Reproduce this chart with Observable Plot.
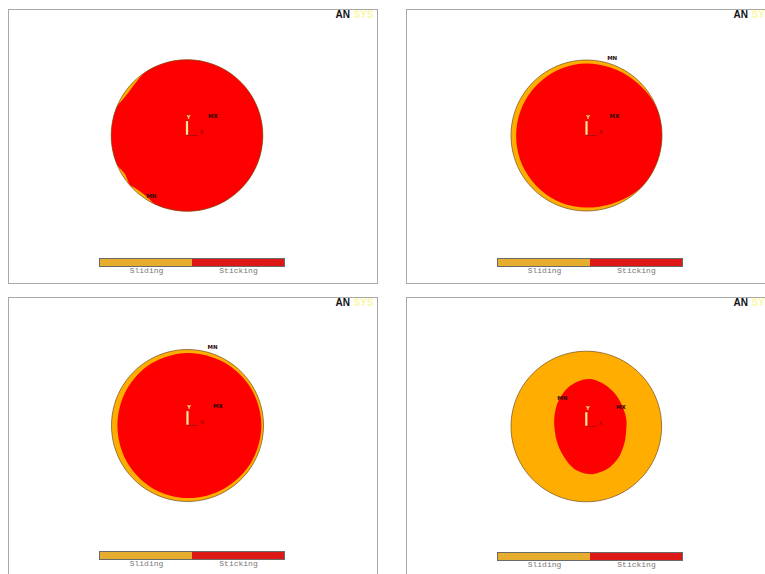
<!DOCTYPE html>
<html><head><meta charset="utf-8">
<script src="https://cdn.jsdelivr.net/npm/d3@7"></script>
<script src="https://cdn.jsdelivr.net/npm/@observablehq/plot@0.6"></script>
<style>
html,body{margin:0;padding:0;background:#fff;}
#root{position:relative;width:765px;height:574px;overflow:hidden;background:#fff;}
.panel{position:absolute;box-sizing:border-box;border:1px solid #a9a9a9;background:#fff;overflow:hidden;}
.panel svg{position:absolute;}
</style></head><body><div id="root"></div>
<script>
// ---- data (model units: disc radius = 1, angles in degrees, counter-clockwise from +X) ----
const statusCategories = ["Sliding", "Sticking"];
const legendColors = ["#E6AD2E", "#DE1717"];
const discColors = ["#FFAD00", "#FF0000"];

// boundary of the sticking zone: [angle, radius fraction]
const sticking1 = [[0,1],[10,1],[20,1],[30,1],[40,1],[50,1],[60,1],[70,1],[80,1],[90,1],[100,1],[110,1],[118,1],
  [124,1],[128,0.99],[133,0.972],[140,0.962],[147,0.962],[152,0.975],[156,0.995],[160,1],[168,1],[176,1],[184,1],
  [192,1],[200,1],[204,0.995],[208,0.975],[212,0.963],[217,0.98],[221,0.995],[226,0.972],[233,0.962],[239,0.975],
  [243,0.995],[247,1],[254,1],[262,1],[270,1],[280,1],[290,1],[300,1],[310,1],[320,1],[330,1],[340,1],[350,1]];
const sticking2 = [[0,1],[10,1],[20,1],[30,0.99],[40,0.975],[50,0.965],[60,0.958],[70,0.955],[80,0.953],[90,0.952],
  [100,0.95],[110,0.947],[120,0.944],[130,0.94],[140,0.937],[150,0.935],[160,0.933],[170,0.932],[180,0.932],
  [190,0.933],[200,0.935],[210,0.937],[220,0.94],[230,0.944],[240,0.947],[250,0.95],[260,0.953],[270,0.955],
  [280,0.958],[290,0.965],[300,0.975],[310,0.99],[320,1],[330,1],[340,1],[350,1]];
const sticking3 = [[0,0.972],[30,0.968],[60,0.96],[90,0.955],[120,0.945],[150,0.93],[180,0.922],[210,0.93],
  [240,0.945],[270,0.955],[300,0.96],[330,0.968]];
const sticking4 = [[10,0.54],[27,0.548],[40,0.565],[54,0.587],[70,0.615],[85,0.634],[98,0.615],[111,0.582],
  [126,0.535],[142,0.49],[165,0.44],[187,0.422],[208,0.44],[229,0.486],[245,0.545],[258,0.599],[270,0.628],
  [279,0.639],[296,0.629],[310,0.605],[321,0.583],[338,0.55],[354,0.532]];

// extreme-value labels: [text, x, y]
const extrema1 = [["MX", 0.34, 0.25], ["MN", -0.47, -0.8]];
const extrema2 = [["MN", 0.34, 1.02], ["MX", 0.37, 0.25]];
const extrema3 = [["MN", 0.33, 1.03], ["MX", 0.4, 0.25]];
const extrema4 = [["MN", -0.32, 0.37], ["MX", 0.46, 0.25]];

// coordinate triad: [axis, dx, dy]
const triad = [["Y", 0, 0.19], ["X", 0.14, 0]];

const logoParts = ["AN", "SYS"];

// ---- drawing ----
const rad = a => a * Math.PI / 180;
const px = d => d[1] * Math.cos(rad(d[0]));
const py = d => d[1] * Math.sin(rad(d[0]));
const discOutline = d3.range(0, 360, 4).map(a => [a, 1]);

const panels = [
  {left: 8,   top: 9,   w: 370, h: 275, cx: 177.5, cy: 125, r: 75.8, stick: sticking1, ext: extrema1, legTop: 248},
  {left: 406, top: 9,   w: 370, h: 275, cx: 179,   cy: 125, r: 75.5, stick: sticking2, ext: extrema2, legTop: 248},
  {left: 8,   top: 297, w: 370, h: 280, cx: 178,   cy: 127, r: 76,   stick: sticking3, ext: extrema3, legTop: 253},
  {left: 406, top: 297, w: 370, h: 280, cx: 178.8, cy: 128, r: 75.3, stick: sticking4, ext: extrema4, legTop: 254}
];

const root = document.getElementById("root");
for (const p of panels) {
  const div = document.createElement("div");
  div.className = "panel";
  Object.assign(div.style, {left: p.left + "px", top: p.top + "px", width: p.w + "px", height: p.h + "px"});
  root.appendChild(div);

  const W = p.w - 2, H = p.h - 2;
  const chart = Plot.plot({
    width: W, height: H, margin: 0,
    style: {background: "transparent", overflow: "visible"},
    x: {domain: [-1, 1], range: [p.cx - p.r, p.cx + p.r], axis: null},
    y: {domain: [-1, 1], range: [p.cy + p.r, p.cy - p.r], axis: null},
    marks: [
      Plot.line(discOutline, {x: px, y: py, fill: discColors[0], stroke: "none", curve: "linear-closed"}),
      Plot.line(p.stick, {x: px, y: py, fill: discColors[1], stroke: "none", curve: "catmull-rom-closed"}),
      Plot.line(discOutline, {x: px, y: py, fill: "none", stroke: "#6e4a1c", strokeWidth: 0.8, strokeOpacity: 0.85, curve: "linear-closed"}),
      // triad
      Plot.link([triad[0]], {x1: 0, y1: 0.01, x2: d => d[1], y2: d => d[2], stroke: "#f3ec9a", strokeWidth: 2.2}),
      Plot.link([triad[1]], {x1: 0, y1: 0, x2: d => d[1], y2: d => d[2], stroke: "#9a1010", strokeWidth: 0.8}),
      Plot.text([triad[0]], {x: d => d[1] + 0.02, y: d => d[2] + 0.05, text: d => d[0], fill: "#f5ef8a", fontSize: 6, fontWeight: "bold"}),
      Plot.text([triad[1]], {x: d => d[1] + 0.05, y: d => d[2] + 0.04, text: d => d[0], fill: "#7a0a0a", fontSize: 6}),
      // extrema labels
      Plot.text(p.ext, {x: d => d[1], y: d => d[2], text: d => d[0], fill: "#2a0a0a", fontSize: 5.5, fontWeight: "bold", fontFamily: "DejaVu Sans"}),
      // logo
      Plot.text([logoParts[0]], {frameAnchor: "top-left", dx: 326, dy: 0, text: d => d, textAnchor: "start", lineAnchor: "top",
        fill: "#111", fontSize: 10, fontWeight: "bold", fontFamily: "Liberation Sans"}),
      Plot.text([logoParts[1]], {frameAnchor: "top-left", dx: 344, dy: 0, text: d => d, textAnchor: "start", lineAnchor: "top",
        fill: "#fbf7a6", fontSize: 10, fontWeight: "bold", fontFamily: "Liberation Sans"})
    ]
  });
  chart.style.left = "0px"; chart.style.top = "0px";
  div.appendChild(chart);

  const legend = Plot.plot({
    width: 185, height: 22, marginTop: 0, marginBottom: 14, marginLeft: 0, marginRight: 0,
    style: {background: "transparent", fontFamily: "Liberation Mono, monospace", fontSize: "8px", color: "#777", overflow: "visible"},
    x: {domain: statusCategories, padding: 0, label: null, tickSize: 0, tickPadding: 1},
    color: {domain: statusCategories, range: legendColors},
    marks: [
      Plot.cell(statusCategories, {x: d => d, fill: d => d}),
      Plot.frame({stroke: "#6a6a6a", strokeWidth: 1})
    ]
  });
  legend.style.left = "90px"; legend.style.top = p.legTop + "px";
  div.appendChild(legend);
}
</script></body></html>
